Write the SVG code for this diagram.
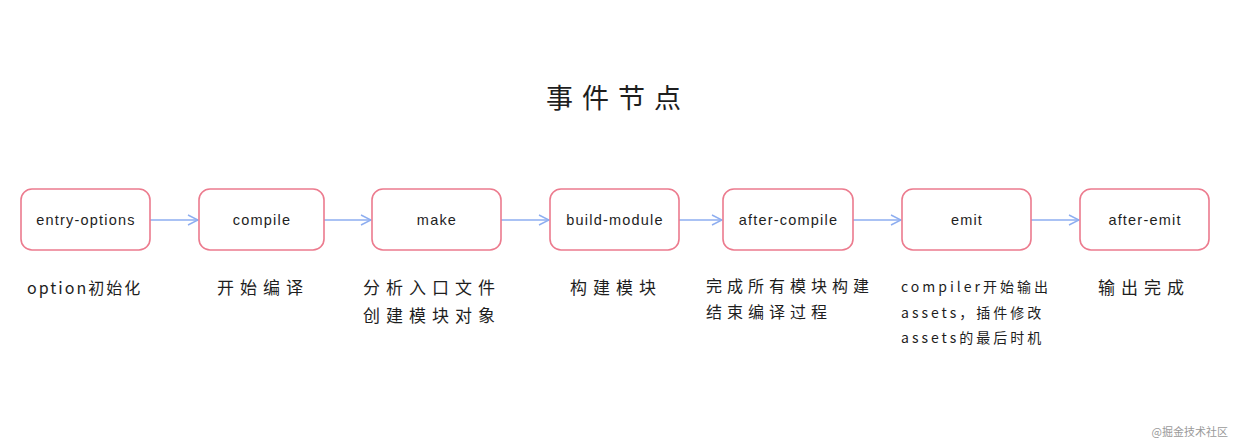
<svg xmlns="http://www.w3.org/2000/svg" width="1237" height="446" viewBox="0 0 1237 446">
<style>
.box{fill:#ffffff;stroke:#ec7b8e;stroke-width:1.6}
.lbl{font-family:"Liberation Sans","Noto Sans CJK SC",sans-serif;font-size:14.5px;fill:#1e1e1e;text-anchor:middle;letter-spacing:1.2px}
.desc{font-family:"Noto Sans CJK SC","Liberation Sans",sans-serif;font-size:17px;fill:#1e1e1e;letter-spacing:6px}
.conn{stroke:#8eaef0;stroke-width:1.4;fill:none}
</style>
<defs>
<marker id="arr" viewBox="0 0 12 12" refX="11" refY="6" markerWidth="12" markerHeight="12" markerUnits="userSpaceOnUse" orient="auto">
<path d="M1,1 L11,6 L1,11" fill="none" stroke="#8eaef0" stroke-width="1.4"/>
</marker>
</defs>
<rect width="1237" height="446" fill="#ffffff"/>
<text x="618" y="108" font-family="Noto Sans CJK SC,sans-serif" font-size="27" fill="#1e1e1e" text-anchor="middle" letter-spacing="9">事件节点</text>
<g id="connectors">
<line class="conn" x1="150" y1="220" x2="198" y2="220" marker-end="url(#arr)"/>
<line class="conn" x1="324" y1="220" x2="371" y2="220" marker-end="url(#arr)"/>
<line class="conn" x1="501" y1="220" x2="549" y2="220" marker-end="url(#arr)"/>
<line class="conn" x1="679" y1="220" x2="722" y2="220" marker-end="url(#arr)"/>
<line class="conn" x1="853" y1="220" x2="901" y2="220" marker-end="url(#arr)"/>
<line class="conn" x1="1031" y1="220" x2="1079" y2="220" marker-end="url(#arr)"/>
</g>
<g id="n1"><rect class="box" x="21" y="189" width="129" height="61" rx="11"/><text class="lbl" x="86" y="225">entry-options</text></g>
<g id="n2"><rect class="box" x="199" y="189" width="125" height="61" rx="11"/><text class="lbl" x="262" y="225">compile</text></g>
<g id="n3"><rect class="box" x="372" y="189" width="129" height="61" rx="11"/><text class="lbl" x="437" y="225">make</text></g>
<g id="n4"><rect class="box" x="550" y="189" width="129" height="61" rx="11"/><text class="lbl" x="615" y="225">build-module</text></g>
<g id="n5"><rect class="box" x="723" y="189" width="130" height="61" rx="11"/><text class="lbl" x="788.5" y="225">after-compile</text></g>
<g id="n6"><rect class="box" x="902" y="189" width="129" height="61" rx="11"/><text class="lbl" x="967" y="225">emit</text></g>
<g id="n7"><rect class="box" x="1080" y="189" width="129" height="61" rx="11"/><text class="lbl" x="1145" y="225">after-emit</text></g>
<g id="descs">
<text class="desc" x="27" y="294" style="font-size:16px;letter-spacing:2px">option初始化</text>
<text class="desc" x="217" y="294">开始编译</text>
<text class="desc" x="363" y="294">分析入口文件</text>
<text class="desc" x="363" y="322">创建模块对象</text>
<text class="desc" x="570" y="294">构建模块</text>
<text class="desc" x="706" y="292" style="font-size:16px;letter-spacing:5px">完成所有模块构建</text>
<text class="desc" x="706" y="318" style="font-size:16px;letter-spacing:5px">结束编译过程</text>
<text class="desc" x="901" y="292" style="font-size:14px;letter-spacing:3px">compiler开始输出</text>
<text class="desc" x="901" y="318" style="font-size:14px;letter-spacing:3px">assets，插件修改</text>
<text class="desc" x="901" y="343" style="font-size:14px;letter-spacing:3px">assets的最后时机</text>
<text class="desc" x="1098" y="294">输出完成</text>
</g>
<text x="1228" y="436" font-family="Noto Sans CJK SC,sans-serif" font-size="11" fill="#9a9a9a" text-anchor="end">@掘金技术社区</text>
</svg>
